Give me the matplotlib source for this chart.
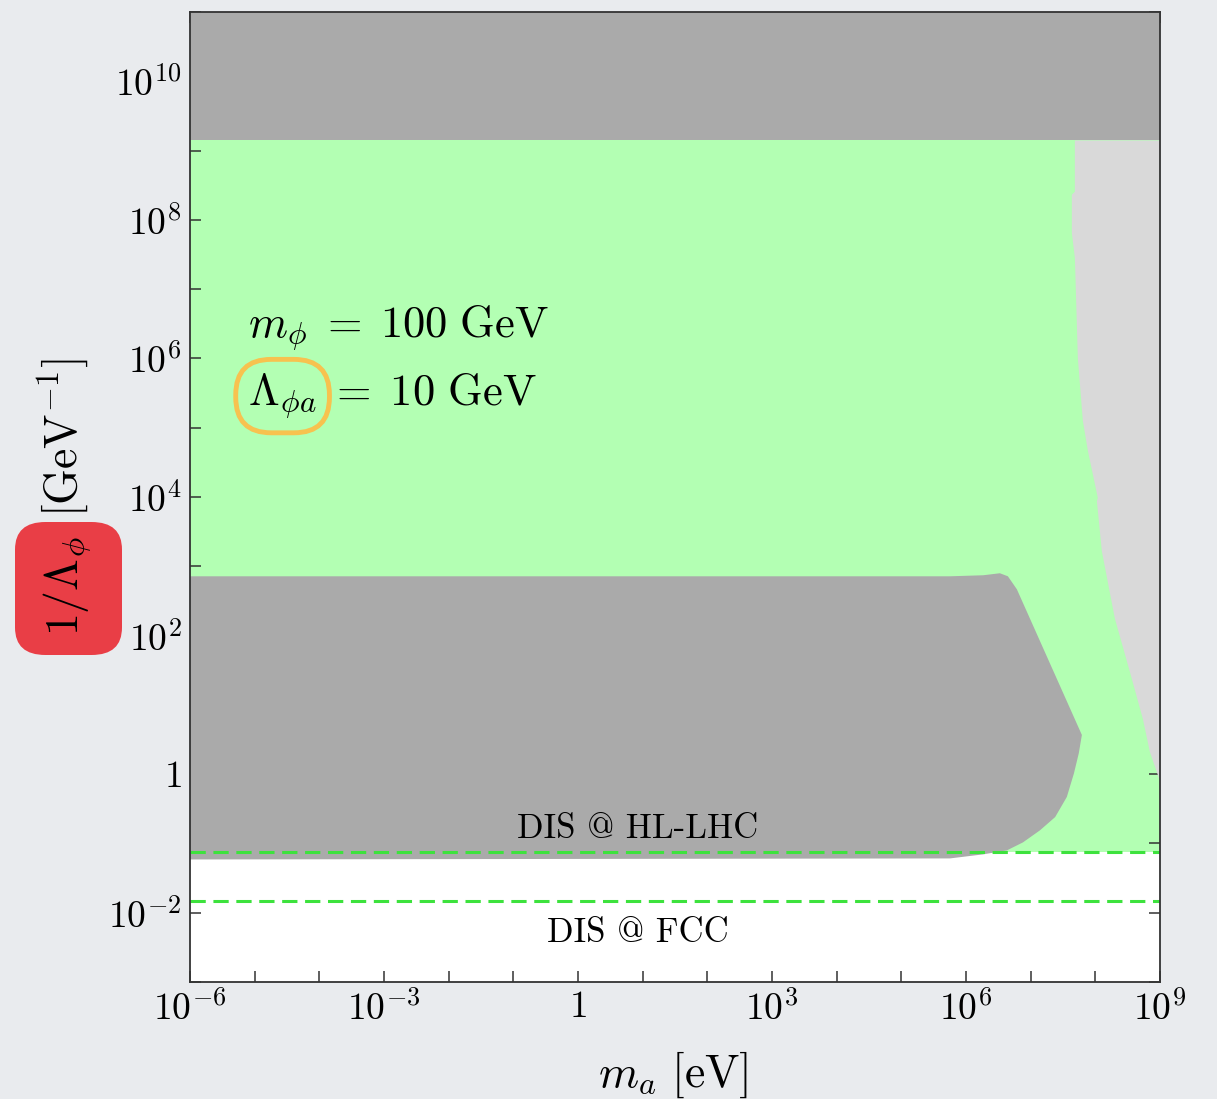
"""Parameter space plot: 1/Lambda_phi vs m_a."""

import matplotlib

matplotlib.use("Agg")
import matplotlib.pyplot as plt
import numpy as np
from matplotlib.patches import FancyBboxPatch

# --- data (log10 values) ---
x_range = [1e-6, 1e9]
y_range = [1e-3, 1e11]

top_excluded = [1.4e9, 1e11]          # dark grey band at the top
green_band = [0.074, 1.4e9]           # allowed / probed region
hl_lhc = 0.075                        # DIS @ HL-LHC reach
fcc = 0.0148                          # DIS @ FCC reach

# light grey region on the right (left edge, top to bottom)
light_logx = [7.685, 7.685, 7.638, 7.638, 7.685, 7.731, 7.808, 7.886, 8.040,
              8.025, 8.102, 8.303, 8.535, 8.736, 8.845, 9.0]
light_logy = [9.145, 8.406, 8.362, 7.812, 7.449, 6.0, 5.101, 4.667, 3.986,
              3.942, 3.217, 2.246, 1.478, 0.797, 0.319, -0.10]

# lower dark grey region (outline)
dark_logx = [-6.0, 5.752, 6.268, 6.525, 6.649, 6.788, 7.793, 7.745, 7.670,
             7.560, 7.380, 7.144, 6.881, 6.633, 6.262, 5.752, -6.0]
dark_logy = [2.855, 2.855, 2.870, 2.899, 2.855, 2.667, 0.565, 0.300, 0.010,
             -0.330, -0.620, -0.812, -0.986, -1.101, -1.159, -1.217, -1.232]

x_ticks = [1e-6, 1e-5, 1e-4, 1e-3, 1e-2, 1e-1, 1, 1e1, 1e2, 1e3, 1e4, 1e5,
           1e6, 1e7, 1e8, 1e9]
x_labels = [r"$10^{-6}$", "", "", r"$10^{-3}$", "", "", r"$1$", "", "",
            r"$10^{3}$", "", "", r"$10^{6}$", "", "", r"$10^{9}$"]
y_ticks = [1e-3, 1e-2, 1e-1, 1, 1e1, 1e2, 1e3, 1e4, 1e5, 1e6, 1e7, 1e8,
           1e9, 1e10, 1e11]
y_labels = ["", r"$10^{-2}$", "", r"$1$", "", r"$10^{2}$", "", r"$10^{4}$",
            "", r"$10^{6}$", "", r"$10^{8}$", "", r"$10^{10}$", ""]

GREEN = "#b3ffb3"
DARK = "#aaaaaa"
LIGHT = "#d9d9d9"
LINE = "#3de23d"

plt.rcParams.update({
    "mathtext.fontset": "cm",
    "font.family": "serif",
    "font.serif": ["cmr10", "DejaVu Serif"],
    "axes.formatter.use_mathtext": True,
})

fig = plt.figure(figsize=(12.17, 10.99), dpi=100)
fig.patch.set_facecolor("#e9ebee")
ax = fig.add_axes([0.1561, 0.1065, 0.797, 0.8826])
ax.set_facecolor("white")
ax.set_xscale("log")
ax.set_yscale("log")

ax.fill_between(x_range, green_band[0], green_band[1], color=GREEN, lw=0, zorder=1)
ax.fill_between(x_range, top_excluded[0], top_excluded[1], color=DARK, lw=0, zorder=3)

lx = np.power(10.0, light_logx)
ly = np.power(10.0, light_logy)
ax.fill(np.r_[lx, x_range[1], x_range[1]], np.r_[ly, ly[-1], ly[0]],
        color=LIGHT, lw=0, zorder=2)

ax.fill(np.power(10.0, dark_logx), np.power(10.0, dark_logy), color=DARK, lw=0, zorder=3)

ax.axhline(hl_lhc, color=LINE, ls=(0, (5, 2.5)), lw=2.2, zorder=4)
ax.axhline(fcc, color=LINE, ls=(0, (5, 2.5)), lw=2.2, zorder=4)

ax.text(8.5, 0.16, "DIS @ HL-LHC", ha="center", va="center", fontsize=25, zorder=5)
ax.text(8.5, 0.0051, "DIS @ FCC", ha="center", va="center", fontsize=25, zorder=5)

ax.text(0.06, 0.675, r"$m_\phi\;=\;100\ \mathrm{GeV}$", transform=ax.transAxes,
        fontsize=32, ha="left", va="center", zorder=5)
ax.text(0.06, 0.604, r"$\Lambda_{\phi a}$", transform=ax.transAxes,
        fontsize=32, ha="left", va="center", zorder=5,
        bbox=dict(boxstyle="round,pad=0.28,rounding_size=0.8", fc="none",
                  ec="#f7c24f", lw=3.5))
ax.text(0.143, 0.607, r"$=\;10\ \mathrm{GeV}$", transform=ax.transAxes,
        fontsize=32, ha="left", va="center", zorder=5)

ax.set_xlim(x_range)
ax.set_ylim(y_range)
ax.set_xticks(x_ticks)
ax.set_xticklabels(x_labels)
ax.set_yticks(y_ticks)
ax.set_yticklabels(y_labels)
ax.minorticks_off()
ax.tick_params(which="both", direction="in", top=True, right=True,
               length=8, width=1.1, labelsize=27, pad=6, color="#333333")
for sp in ax.spines.values():
    sp.set_linewidth(1.3)
    sp.set_color("#333333")
    sp.set_zorder(6)

fig.text(0.553, 0.022, r"$m_a\ [\mathrm{eV}]$", fontsize=33, ha="center", va="center")

# y label: red rounded box behind 1/Lambda_phi
fig.patches.append(FancyBboxPatch((15 / 1217, 1 - 655 / 1099), 107 / 1217, 133 / 1099,
                                  boxstyle="round,pad=0,rounding_size=0.025",
                                  transform=fig.transFigure, fc="#e93e46", ec="none"))
fig.text(0.055, 0.467, r"$1/\Lambda_\phi$", rotation=90, fontsize=33,
         ha="center", va="center")
fig.text(0.052, 0.6015, r"$[\mathrm{GeV}^{-1}]$", rotation=90, fontsize=33,
         ha="center", va="center")

fig.savefig("out.png", dpi=100)
